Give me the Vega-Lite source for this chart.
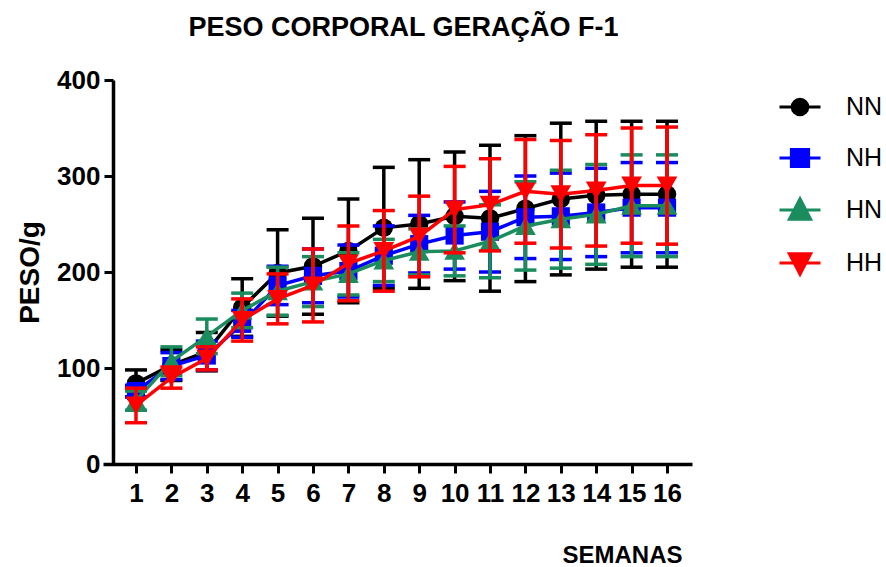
{
  "$schema": "https://vega.github.io/schema/vega-lite/v6.json",
  "autosize": "none",
  "width": 589,
  "height": 384,
  "padding": {"left": 103, "top": 80, "right": 194, "bottom": 103},
  "background": "white",
  "title": {
    "text": "PESO CORPORAL GERAÇÃO F-1",
    "font": "Liberation Sans",
    "fontSize": 27,
    "fontWeight": "bold",
    "color": "black",
    "anchor": "middle",
    "dx": 6,
    "offset": 25
  },
  "config": {"view": {"stroke": null}, "font": "Liberation Sans"},
  "data": {
    "values": [
      {"semana": 1, "grupo": "NN", "peso": 84, "dp": 14},
      {"semana": 2, "grupo": "NN", "peso": 103, "dp": 16},
      {"semana": 3, "grupo": "NN", "peso": 117, "dp": 20},
      {"semana": 4, "grupo": "NN", "peso": 163, "dp": 30},
      {"semana": 5, "grupo": "NN", "peso": 199, "dp": 45},
      {"semana": 6, "grupo": "NN", "peso": 206, "dp": 50},
      {"semana": 7, "grupo": "NN", "peso": 222, "dp": 54},
      {"semana": 8, "grupo": "NN", "peso": 246, "dp": 63},
      {"semana": 9, "grupo": "NN", "peso": 250, "dp": 67},
      {"semana": 10, "grupo": "NN", "peso": 258, "dp": 67},
      {"semana": 11, "grupo": "NN", "peso": 256, "dp": 76},
      {"semana": 12, "grupo": "NN", "peso": 266, "dp": 76},
      {"semana": 13, "grupo": "NN", "peso": 276, "dp": 79},
      {"semana": 14, "grupo": "NN", "peso": 280, "dp": 77},
      {"semana": 15, "grupo": "NN", "peso": 281, "dp": 76},
      {"semana": 16, "grupo": "NN", "peso": 281, "dp": 76},
      {"semana": 1, "grupo": "NH", "peso": 76, "dp": 6},
      {"semana": 2, "grupo": "NH", "peso": 102, "dp": 14},
      {"semana": 3, "grupo": "NH", "peso": 113, "dp": 15},
      {"semana": 4, "grupo": "NH", "peso": 146, "dp": 14},
      {"semana": 5, "grupo": "NH", "peso": 186, "dp": 20},
      {"semana": 6, "grupo": "NH", "peso": 196, "dp": 28},
      {"semana": 7, "grupo": "NH", "peso": 201, "dp": 27},
      {"semana": 8, "grupo": "NH", "peso": 217, "dp": 31},
      {"semana": 9, "grupo": "NH", "peso": 229, "dp": 30},
      {"semana": 10, "grupo": "NH", "peso": 238, "dp": 35},
      {"semana": 11, "grupo": "NH", "peso": 242, "dp": 42},
      {"semana": 12, "grupo": "NH", "peso": 257, "dp": 43},
      {"semana": 13, "grupo": "NH", "peso": 258, "dp": 45},
      {"semana": 14, "grupo": "NH", "peso": 262, "dp": 46},
      {"semana": 15, "grupo": "NH", "peso": 267, "dp": 47},
      {"semana": 16, "grupo": "NH", "peso": 267, "dp": 47},
      {"semana": 1, "grupo": "HN", "peso": 66, "dp": 10},
      {"semana": 2, "grupo": "HN", "peso": 107, "dp": 15},
      {"semana": 3, "grupo": "HN", "peso": 133, "dp": 18},
      {"semana": 4, "grupo": "HN", "peso": 160, "dp": 18},
      {"semana": 5, "grupo": "HN", "peso": 180, "dp": 25},
      {"semana": 6, "grupo": "HN", "peso": 190, "dp": 26},
      {"semana": 7, "grupo": "HN", "peso": 198, "dp": 22},
      {"semana": 8, "grupo": "HN", "peso": 212, "dp": 22},
      {"semana": 9, "grupo": "HN", "peso": 221, "dp": 24},
      {"semana": 10, "grupo": "HN", "peso": 222, "dp": 26},
      {"semana": 11, "grupo": "HN", "peso": 232, "dp": 38},
      {"semana": 12, "grupo": "HN", "peso": 248, "dp": 46},
      {"semana": 13, "grupo": "HN", "peso": 255, "dp": 51},
      {"semana": 14, "grupo": "HN", "peso": 260, "dp": 52},
      {"semana": 15, "grupo": "HN", "peso": 269, "dp": 53},
      {"semana": 16, "grupo": "HN", "peso": 269, "dp": 53},
      {"semana": 1, "grupo": "HH", "peso": 61, "dp": 18},
      {"semana": 2, "grupo": "HH", "peso": 90, "dp": 11},
      {"semana": 3, "grupo": "HH", "peso": 110, "dp": 12},
      {"semana": 4, "grupo": "HH", "peso": 150, "dp": 22},
      {"semana": 5, "grupo": "HH", "peso": 172, "dp": 26},
      {"semana": 6, "grupo": "HH", "peso": 186, "dp": 38},
      {"semana": 7, "grupo": "HH", "peso": 209, "dp": 39},
      {"semana": 8, "grupo": "HH", "peso": 222, "dp": 42},
      {"semana": 9, "grupo": "HH", "peso": 237, "dp": 42},
      {"semana": 10, "grupo": "HH", "peso": 265, "dp": 45},
      {"semana": 11, "grupo": "HH", "peso": 270, "dp": 48},
      {"semana": 12, "grupo": "HH", "peso": 284, "dp": 54},
      {"semana": 13, "grupo": "HH", "peso": 281, "dp": 56},
      {"semana": 14, "grupo": "HH", "peso": 285, "dp": 58},
      {"semana": 15, "grupo": "HH", "peso": 290, "dp": 60},
      {"semana": 16, "grupo": "HH", "peso": 290, "dp": 61}
    ]
  },
  "encoding": {
    "x": {
      "field": "semana",
      "type": "quantitative",
      "scale": {"domain": [0.068, 16.706], "nice": false, "zero": false},
      "axis": {
        "values": [1, 2, 3, 4, 5, 6, 7, 8, 9, 10, 11, 12, 13, 14, 15, 16],
        "title": "SEMANAS",
        "grid": false,
        "domainColor": "black",
        "domainWidth": 3.5,
        "tickColor": "black",
        "tickWidth": 3,
        "tickSize": 9,
        "labelFont": "Liberation Sans",
        "labelFontSize": 26,
        "labelFontWeight": "bold",
        "labelColor": "black",
        "labelPadding": 7,
        "labelFlush": false,
        "labelOverlap": false,
        "titleFont": "Liberation Sans",
        "titleFontSize": 24,
        "titleFontWeight": "bold",
        "titleColor": "black",
        "titleAlign": "right",
        "titleBaseline": "alphabetic",
        "titleX": 579,
        "titleY": 98
      }
    },
    "y": {
      "field": "peso",
      "type": "quantitative",
      "scale": {"domain": [0, 400], "nice": false},
      "axis": {
        "values": [0, 100, 200, 300, 400],
        "title": "PESO/g",
        "offset": -10,
        "grid": false,
        "domainColor": "black",
        "domainWidth": 3.5,
        "tickColor": "black",
        "tickWidth": 3,
        "tickSize": 9,
        "labelFont": "Liberation Sans",
        "labelFontSize": 26,
        "labelFontWeight": "bold",
        "labelColor": "black",
        "labelPadding": 4,
        "labelFlush": false,
        "titleFont": "Liberation Sans",
        "titleFontSize": 28,
        "titleFontWeight": "bold",
        "titleColor": "black",
        "titlePadding": 12
      }
    },
    "color": {
      "field": "grupo",
      "type": "nominal",
      "scale": {
        "domain": ["NN", "NH", "HN", "HH"],
        "range": ["#000000", "#0000ff", "#1a8c5e", "#ff0000"]
      },
      "legend": {
        "title": null,
        "orient": "none",
        "legendX": 675,
        "legendY": 5,
        "padding": 0,
        "labelFont": "Liberation Sans",
        "labelFontSize": 25,
        "labelColor": "black",
        "labelOffset": 24,
        "symbolSize": 1681,
        "rowPadding": 15,
        "encode": {
          "symbols": {
            "update": {
              "shape": {
                "signal": "datum.value === 'NN' ? 'M-1,0H1M0.38,0A0.38,0.38,0,1,1,-0.38,0A0.38,0.38,0,1,1,0.38,0Z' : datum.value === 'NH' ? 'M-1,0H1M-0.42,-0.42H0.42V0.42H-0.42Z' : datum.value === 'HN' ? 'M-1,0H1M0,-0.55L0.52,0.45H-0.52Z' : 'M-1,0H1M0,0.55L0.52,-0.45H-0.52Z'"
              },
              "fill": {"scale": "color", "field": "value"},
              "stroke": {"scale": "color", "field": "value"},
              "strokeWidth": {"value": 3},
              "opacity": {"value": 1},
              "size": {"value": 1681}
            }
          }
        }
      }
    }
  },
  "layer": [
    {
      "transform": [{"filter": "datum.grupo === 'NN'"}],
      "layer": [
        {"mark": {"type": "errorbar", "ticks": {"opacity": 1}, "rule": {"opacity": 1}, "size": 22, "thickness": 3.5}, "encoding": {"yError": {"field": "dp"}}},
        {"mark": {"type": "line", "strokeWidth": 3.5}},
        {"mark": {"type": "point", "shape": "circle", "filled": true, "opacity": 1, "size": 340}}
      ]
    },
    {
      "transform": [{"filter": "datum.grupo === 'NH'"}],
      "layer": [
        {"mark": {"type": "errorbar", "ticks": {"opacity": 1}, "rule": {"opacity": 1}, "size": 22, "thickness": 3.5}, "encoding": {"yError": {"field": "dp"}}},
        {"mark": {"type": "line", "strokeWidth": 3.5}},
        {"mark": {"type": "point", "shape": "square", "filled": true, "opacity": 1, "size": 330}}
      ]
    },
    {
      "transform": [{"filter": "datum.grupo === 'HN'"}],
      "layer": [
        {"mark": {"type": "errorbar", "ticks": {"opacity": 1}, "rule": {"opacity": 1}, "size": 22, "thickness": 3.5}, "encoding": {"yError": {"field": "dp"}}},
        {"mark": {"type": "line", "strokeWidth": 3.5}},
        {"mark": {"type": "point", "shape": "triangle-up", "filled": true, "opacity": 1, "size": 430}}
      ]
    },
    {
      "transform": [{"filter": "datum.grupo === 'HH'"}],
      "layer": [
        {"mark": {"type": "errorbar", "ticks": {"opacity": 1}, "rule": {"opacity": 1}, "size": 22, "thickness": 3.5}, "encoding": {"yError": {"field": "dp"}}},
        {"mark": {"type": "line", "strokeWidth": 3.5}},
        {"mark": {"type": "point", "shape": "triangle-down", "filled": true, "opacity": 1, "size": 430}}
      ]
    }
  ]
}
